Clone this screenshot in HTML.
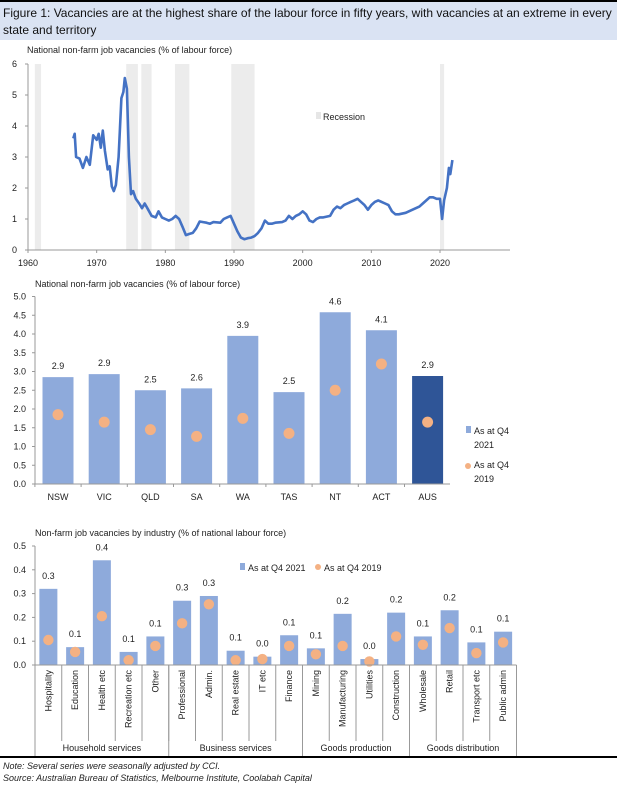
<!DOCTYPE html>
<html><head><meta charset="utf-8">
<style>
body{margin:0;background:#fff;font-family:"Liberation Sans",sans-serif;}
#wrap{position:relative;width:617px;height:785px;overflow:hidden;}
svg text{font-family:"Liberation Sans",sans-serif;}
</style></head>
<body>
<div id="wrap">
<svg id="svg" width="617" height="785">
<rect x="0" y="0" width="617" height="2" fill="#000"/>
<rect x="0" y="2" width="617" height="38" fill="#dae3f3"/>
<text x="3" y="17" font-size="12" fill="#111">Figure 1: Vacancies are at the highest share of the labour force in fifty years, with vacancies at an extreme in every</text>
<text x="3" y="34" font-size="12" fill="#111">state and territory</text>
<text x="27" y="53" font-size="9" fill="#222">National non-farm job vacancies (% of labour force)</text>
<g id="c1"></g>
<text x="35" y="287" font-size="9" fill="#222">National non-farm job vacancies (% of labour force)</text>
<g id="c2"></g>
<text x="35" y="536" font-size="9" fill="#222">Non-farm job vacancies by industry (% of national labour force)</text>
<g id="c3"></g>
<rect x="0" y="756" width="617" height="2" fill="#000"/>
<text x="3" y="769" font-size="9" font-style="italic" fill="#222">Note: Several series were seasonally adjusted by CCI.</text>
<text x="3" y="781" font-size="9" font-style="italic" fill="#222">Source: Australian Bureau of Statistics, Melbourne Institute, Coolabah Capital</text>
</svg>
</div>
<script>
// ---- Chart 1 data ----
const years=[1966.6,1966.8,1967,1967.5,1968,1968.5,1969,1969.5,1970,1970.3,1970.6,1970.9,1971.2,1971.6,1971.9,1972.2,1972.5,1972.8,1973.2,1973.6,1973.9,1974.1,1974.4,1974.7,1975,1975.3,1975.7,1976.2,1976.6,1977,1977.5,1978,1978.6,1979,1979.5,1980,1980.5,1981,1981.5,1982,1982.5,1983,1983.5,1984,1984.5,1985,1985.5,1986,1986.5,1987,1988,1988.5,1989,1989.5,1990,1990.5,1991,1991.5,1992,1992.5,1993,1993.5,1994,1994.5,1995,1995.5,1996,1997,1997.5,1998,1998.5,1999,1999.5,2000,2000.5,2001,2001.5,2002,2002.5,2003,2004,2004.5,2005,2005.5,2006,2006.5,2007,2007.5,2008,2008.5,2009,2009.5,2010,2010.5,2011,2011.5,2012,2012.5,2013,2013.5,2014,2015,2016,2017,2017.5,2018,2018.5,2019,2019.5,2020,2020.3,2020.6,2021,2021.3,2021.5,2021.8];
const vacancies=[3.6,3.75,3.0,2.95,2.65,3.0,2.75,3.7,3.55,3.75,3.3,3.85,3.2,2.6,2.7,2.05,1.9,2.1,3.0,4.9,5.1,5.55,5.2,3.0,1.8,1.9,1.65,1.5,1.35,1.5,1.3,1.1,1.05,1.25,1.05,1.0,0.95,1.0,1.1,1.0,0.75,0.48,0.52,0.55,0.7,0.92,0.9,0.88,0.85,0.9,0.88,1.0,1.05,1.1,0.85,0.6,0.4,0.35,0.38,0.4,0.45,0.55,0.7,0.95,0.85,0.85,0.88,0.9,0.95,1.1,1.0,1.1,1.15,1.25,1.15,0.95,0.9,1.0,1.05,1.05,1.1,1.3,1.4,1.35,1.45,1.5,1.55,1.6,1.65,1.55,1.45,1.3,1.45,1.55,1.6,1.55,1.5,1.45,1.25,1.15,1.15,1.2,1.3,1.4,1.5,1.6,1.7,1.7,1.65,1.65,1.0,1.6,2.0,2.65,2.45,2.9];
const recStart=[1961,1974.3,1976.5,1981.4,1989.6,2020];
const recEnd=[1961.9,1976,1978,1983.5,1993,2020.6];
const c1YTicks=[0,1,2,3,4,5,6];
const c1XTicks=[1960,1970,1980,1990,2000,2010,2020];
// ---- Chart 2 data ----
const states=["NSW","VIC","QLD","SA","WA","TAS","NT","ACT","AUS"];
const st2021=[2.85,2.93,2.5,2.55,3.95,2.45,4.58,4.1,2.88];
const st2019=[1.85,1.65,1.45,1.27,1.75,1.35,2.5,3.2,1.65];
const stLabels=["2.9","2.9","2.5","2.6","3.9","2.5","4.6","4.1","2.9"];
const c2YTicks=[0,0.5,1,1.5,2,2.5,3,3.5,4,4.5,5];
// ---- Chart 3 data ----
const industries=["Hospitality","Education","Health etc","Recreation etc","Other","Professional","Admin.","Real estate","IT etc","Finance","Mining","Manufacturing","Utilities","Construction","Wholesale","Retail","Transport etc","Public admin"];
const ind2021=[0.32,0.075,0.44,0.055,0.12,0.27,0.29,0.06,0.035,0.125,0.07,0.215,0.025,0.22,0.12,0.23,0.095,0.14];
const ind2019=[0.105,0.055,0.205,0.02,0.08,0.175,0.255,0.02,0.025,0.08,0.045,0.08,0.015,0.12,0.085,0.155,0.05,0.095];
const indLabels=["0.3","0.1","0.4","0.1","0.1","0.3","0.3","0.1","0.0","0.1","0.1","0.2","0.0","0.2","0.1","0.2","0.1","0.1"];
const groupNames=["Household services","Business services","Goods production","Goods distribution"];
const groupSizes=[5,5,4,4];
const c3YTicks=[0,0.1,0.2,0.3,0.4,0.5];

const NS="http://www.w3.org/2000/svg";
function mk(parent,tag,attrs,text){const e=document.createElementNS(NS,tag);for(const k in attrs)e.setAttribute(k,attrs[k]);if(text!==undefined)e.textContent=text;parent.appendChild(e);return e;}

// Chart 1
(function(){
const g=document.getElementById('c1');
const x=v=>28+(v-1960)*(412/60), y=v=>250-v*31;
for(let i=0;i<recStart.length;i++){
 const r=mk(g,'rect',{x:x(recStart[i]),y:y(6),width:x(recEnd[i])-x(recStart[i]),height:y(0)-y(6),fill:'#ececec'});
 
 
}
const ax=mk(g,'path',{d:`M${x(1960)},${y(6)}V${y(0)}H510`,stroke:'#999',fill:'none','stroke-width':1});


c1YTicks.forEach(t=>{
 mk(g,'line',{x1:x(1960)-3,x2:x(1960),y1:y(t),y2:y(t),stroke:'#999'});
 const tx=mk(g,'text',{x:17,y:y(t)+3,'font-size':9,'text-anchor':'end',fill:'#222'},t);
 
 
});
c1XTicks.forEach(t=>{
 mk(g,'line',{x1:x(t),x2:x(t),y1:y(0),y2:y(0)+3,stroke:'#999'});
 const tx=mk(g,'text',{x:x(t),y:y(0)+16,'font-size':9,'text-anchor':'middle',fill:'#222'},t);
 
 
});
const d=years.map((yr,i)=>(i?'L':'M')+x(yr).toFixed(1)+','+y(vacancies[i]).toFixed(1)).join('');
const ln=mk(g,'path',{d:d,stroke:'#4472c4',fill:'none','stroke-width':2.6,'stroke-linejoin':'round'});


const lr=mk(g,'rect',{x:316,y:112,width:5,height:7,fill:'#e6e6e6'});


const lt=mk(g,'text',{x:323,y:120,'font-size':9,fill:'#222'},'Recession');


})();

// Chart 2
(function(){
const g=document.getElementById('c2');
const step=46.2, x=i=>58+i*step, y=v=>484-v*37.5;
c2YTicks.forEach(t=>{
 mk(g,'line',{x1:32,x2:35,y1:y(t),y2:y(t),stroke:'#999'});
 const tx=mk(g,'text',{x:26,y:y(t)+3,'font-size':9,'text-anchor':'end',fill:'#222'},t.toFixed(1));
 
 
});
states.forEach((s,i)=>{
 const b=mk(g,'rect',{x:x(i)-15.5,y:y(st2021[i]),width:31,height:y(0)-y(st2021[i]),fill:i===8?'#2f5597':'#8eaadb'});
 
 
 const c=mk(g,'circle',{cx:x(i),cy:y(st2019[i]),r:5.5,fill:'#f4b183'});
 
 
 const l=mk(g,'text',{x:x(i),y:y(st2021[i])-8,'font-size':9,'text-anchor':'middle',fill:'#222'},stLabels[i]);
 
 
 const c2=mk(g,'text',{x:x(i),y:y(0)+16,'font-size':9,'text-anchor':'middle',fill:'#222'},s);
 
 
 mk(g,'line',{x1:x(i)-step/2,x2:x(i)-step/2,y1:y(0),y2:y(0)+3,stroke:'#999'});
});
const ax=mk(g,'path',{d:`M35,${y(5)}V${y(0)}H450`,stroke:'#999',fill:'none'});


const s1=mk(g,'rect',{x:466,y:426,width:5,height:7,fill:'#8eaadb'});


const t1=mk(g,'text',{x:474,y:434,'font-size':9,fill:'#222'},'As at Q4');


mk(g,'text',{x:474,y:448,'font-size':9,fill:'#222'},'2021');
const s2=mk(g,'circle',{cx:468,cy:466,r:3,fill:'#f4b183'});


const t2=mk(g,'text',{x:474,y:468,'font-size':9,fill:'#222'},'As at Q4');


mk(g,'text',{x:474,y:482,'font-size':9,fill:'#222'},'2019');
})();

// Chart 3
(function(){
const g=document.getElementById('c3');
const left=35, step=26.75, x=i=>left+step*(i+0.5), y=v=>665-v*238;
c3YTicks.forEach(t=>{
 mk(g,'line',{x1:32,x2:35,y1:y(t),y2:y(t),stroke:'#999'});
 const tx=mk(g,'text',{x:26,y:y(t)+3,'font-size':9,'text-anchor':'end',fill:'#222'},t.toFixed(1));
 
 
});
industries.forEach((s,i)=>{
 const b=mk(g,'rect',{x:x(i)-9,y:y(ind2021[i]),width:18,height:y(0)-y(ind2021[i]),fill:'#8eaadb'});
 
 
 const c=mk(g,'circle',{cx:x(i),cy:y(ind2019[i]),r:5.2,fill:'#f4b183'});
 
 
 const l=mk(g,'text',{x:x(i),y:y(ind2021[i])-10,'font-size':9,'text-anchor':'middle',fill:'#222'},indLabels[i]);
 
 
 const c2=mk(g,'text',{x:0,y:0,'font-size':9,'text-anchor':'end',fill:'#222',transform:`translate(${x(i)+3},${y(0)+5}) rotate(-90)`},s);
 
 
 mk(g,'line',{x1:left+step*i,x2:left+step*i,y1:y(0),y2:y(0)+76,stroke:'#999'});
});
let acc=0;
groupSizes.forEach((n,k)=>{
 const x0=left+step*acc, x1=left+step*(acc+n);
 mk(g,'line',{x1:x0,x2:x0,y1:y(0),y2:757,stroke:'#999'});
 const t=mk(g,'text',{x:(x0+x1)/2,y:751,'font-size':9,'text-anchor':'middle',fill:'#222'},groupNames[k]);
 
 
 acc+=n;
});
mk(g,'line',{x1:left+step*18,x2:left+step*18,y1:y(0),y2:757,stroke:'#999'});
const ax=mk(g,'path',{d:`M35,${y(0.5)}V${y(0)}H${left+step*18}`,stroke:'#999',fill:'none'});


const s1=mk(g,'rect',{x:240,y:563,width:5,height:7,fill:'#8eaadb'});


const t1=mk(g,'text',{x:248,y:571,'font-size':9,fill:'#222'},'As at Q4 2021');


const s2=mk(g,'circle',{cx:318,cy:567,r:3,fill:'#f4b183'});


const t2=mk(g,'text',{x:324,y:571,'font-size':9,fill:'#222'},'As at Q4 2019');


})();
</script>
</body></html>
